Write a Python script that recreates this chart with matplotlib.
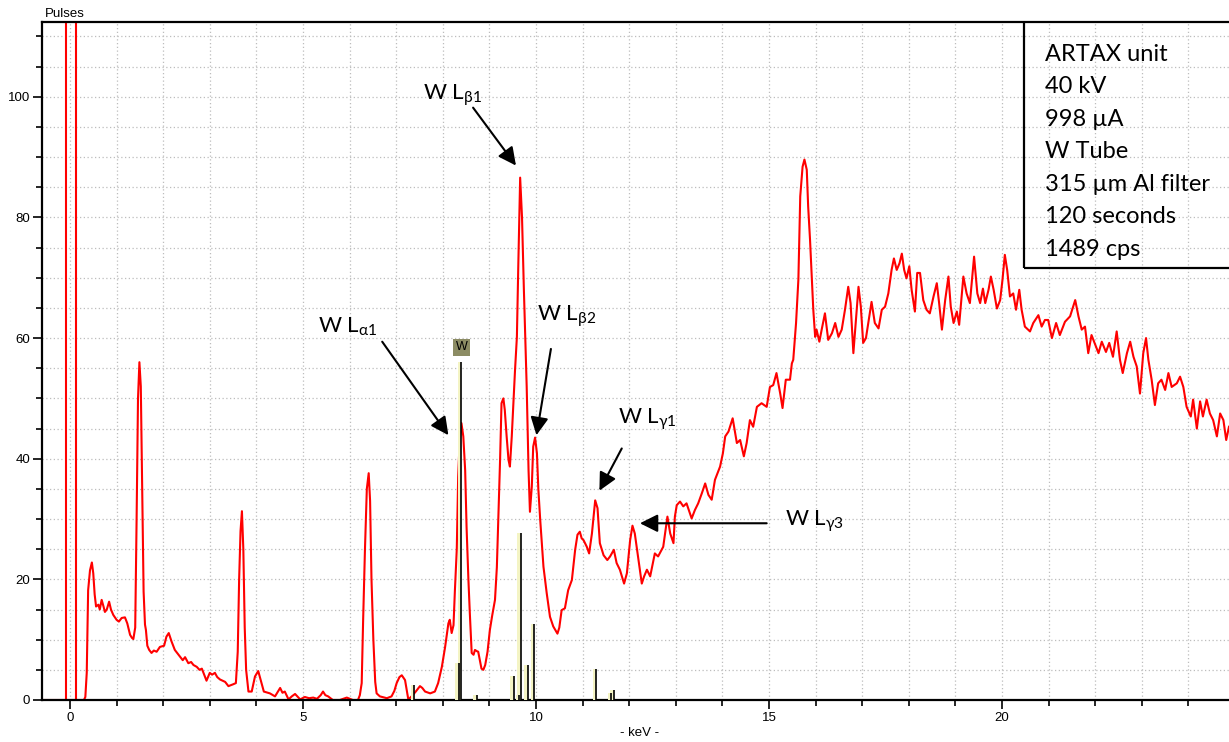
import matplotlib
matplotlib.use("Agg")
import matplotlib.pyplot as plt
from matplotlib.patches import Rectangle
from matplotlib.ticker import MultipleLocator

plt.rcParams['font.family'] = ['Liberation Sans', 'DejaVu Sans']
plt.rcParams['mathtext.fontset'] = 'custom'
plt.rcParams['mathtext.rm'] = 'Lato'

# spectrum (keV, pulses)
energy = [-0.6, 0.30, 0.33, 0.36, 0.39, 0.43, 0.47, 0.50, 0.53, 0.56, 0.61, 0.64, 0.68, 0.72,
          0.75, 0.79, 0.84, 0.88, 0.93, 1.00, 1.05, 1.11, 1.18, 1.23, 1.29, 1.33, 1.36, 1.40,
          1.43, 1.46, 1.49, 1.52, 1.55, 1.58, 1.61, 1.63, 1.66, 1.70, 1.75, 1.80, 1.86, 1.93,
          2.02, 2.07, 2.12, 2.18, 2.25, 2.30, 2.36, 2.42, 2.47, 2.54, 2.60, 2.65, 2.72, 2.78,
          2.83, 2.88, 2.93, 3.00, 3.05, 3.11, 3.16, 3.22, 3.33, 3.40, 3.50, 3.56, 3.60, 3.63,
          3.66, 3.69, 3.72, 3.75, 3.78, 3.83, 3.90, 3.97, 4.04, 4.11, 4.16, 4.29, 4.40, 4.51,
          4.56, 4.61, 4.69, 4.76, 4.83, 4.94, 5.04, 5.13, 5.22, 5.30, 5.38, 5.43, 5.48, 5.54,
          5.64, 5.79, 5.94, 6.07, 6.18, 6.22, 6.26, 6.29, 6.33, 6.37, 6.41, 6.44, 6.47, 6.51,
          6.55, 6.58, 6.65, 6.80, 6.90, 6.96, 7.01, 7.07, 7.12, 7.19, 7.23, 7.26, 7.33, 7.42,
          7.51, 7.56, 7.62, 7.73, 7.83, 7.90, 7.98, 8.05, 8.12, 8.15, 8.19, 8.23, 8.26, 8.30,
          8.33, 8.36, 8.40, 8.44, 8.48, 8.51, 8.55, 8.58, 8.62, 8.66, 8.69, 8.73, 8.76, 8.83,
          8.87, 8.91, 8.96, 9.01, 9.06, 9.12, 9.16, 9.19, 9.23, 9.26, 9.30, 9.33, 9.37, 9.41,
          9.44, 9.48, 9.52, 9.55, 9.59, 9.62, 9.66, 9.70, 9.74, 9.77, 9.80, 9.84, 9.87, 9.91,
          9.94, 9.98, 10.02, 10.05, 10.09, 10.16, 10.23, 10.30, 10.37, 10.46, 10.50, 10.55,
          10.62, 10.69, 10.77, 10.84, 10.89, 10.94, 10.98, 11.02, 11.09, 11.14, 11.20, 11.27,
          11.32, 11.37, 11.45, 11.53, 11.59, 11.67, 11.73, 11.80, 11.89, 11.95, 12.02, 12.07,
          12.12, 12.20, 12.27, 12.32, 12.38, 12.45, 12.55, 12.62, 12.73, 12.82, 12.88, 12.95,
          12.98, 13.02, 13.09, 13.16, 13.23, 13.34, 13.41, 13.48, 13.56, 13.63, 13.70, 13.77,
          13.84, 13.95, 14.01, 14.06, 14.13, 14.22, 14.31, 14.38, 14.46, 14.52, 14.59, 14.66,
          14.74, 14.84, 14.95, 15.02, 15.09, 15.16, 15.24, 15.29, 15.36, 15.45, 15.49, 15.52,
          15.58, 15.63, 15.67, 15.72, 15.76, 15.81, 15.84, 15.88, 15.92, 15.95, 15.99, 16.02,
          16.08, 16.13, 16.20, 16.27, 16.35, 16.42, 16.49, 16.56, 16.63, 16.70, 16.75, 16.81,
          16.87, 16.92, 16.97, 17.02, 17.08, 17.13, 17.20, 17.27, 17.35, 17.42, 17.49, 17.56,
          17.63, 17.68, 17.74, 17.80, 17.85, 17.90, 17.95, 18.01, 18.06, 18.13, 18.18, 18.24,
          18.31, 18.38, 18.45, 18.53, 18.60, 18.65, 18.71, 18.78, 18.85, 18.90, 18.96, 19.03,
          19.08, 19.17, 19.24, 19.31, 19.40, 19.47, 19.53, 19.59, 19.64, 19.71, 19.76, 19.82,
          19.89, 19.96, 20.01, 20.06, 20.11, 20.17, 20.24, 20.30, 20.37, 20.42, 20.49, 20.60,
          20.67, 20.78, 20.85, 20.92, 20.99, 21.07, 21.16, 21.24, 21.35, 21.46, 21.57, 21.64,
          21.71, 21.78, 21.85, 21.92, 22.00, 22.07, 22.14, 22.23, 22.30, 22.38, 22.46, 22.53,
          22.59, 22.68, 22.75, 22.82, 22.89, 22.96, 23.03, 23.09, 23.14, 23.21, 23.28, 23.35,
          23.42, 23.50, 23.57, 23.64, 23.75, 23.82, 23.89, 23.96, 24.05, 24.10, 24.18, 24.25,
          24.31, 24.39, 24.46, 24.53, 24.61, 24.68, 24.75, 24.81, 24.87]
pulses = [0.0, 0.0, 0.5, 4.5, 18.2, 21.5, 22.8, 21.0, 17.5, 15.5, 15.8, 15.0, 16.6, 15.5,
          14.6, 15.0, 16.3, 15.0, 14.1, 13.3, 13.0, 13.6, 13.7, 12.7, 10.8, 10.3, 10.1, 12.0,
          30.0, 50.0, 56.0, 52.0, 35.0, 18.0, 12.5, 11.6, 9.0, 8.3, 7.8, 8.2, 8.0, 8.8,
          9.0, 10.5, 11.1, 9.7, 8.3, 7.8, 7.2, 6.6, 7.1, 6.1, 6.3, 5.8, 5.5, 5.0,
          5.2, 4.2, 3.2, 4.5, 4.2, 4.5, 3.8, 3.4, 3.0, 2.3, 2.6, 2.8, 8.0, 20.0,
          28.0, 31.3, 25.0, 12.0, 5.0, 1.4, 1.4, 3.9, 4.8, 2.8, 1.4, 1.1, 0.6, 2.0,
          1.2, 1.4, 0.1, 0.6, 1.0, 0.1, 0.5, 0.3, 0.4, 0.2, 0.8, 1.4, 0.8, 0.6,
          0.0, 0.0, 0.4, 0.0, 0.0, 0.8, 2.8, 13.0, 25.0, 35.0, 37.6, 33.0, 20.0, 10.0,
          3.0, 1.1, 0.6, 0.3, 0.6, 1.5, 2.8, 3.8, 4.1, 3.3, 1.5, 0.1, 0.6, 1.4,
          2.3, 2.0, 1.4, 1.1, 1.4, 2.8, 5.5, 8.8, 12.7, 13.3, 11.1, 12.4, 18.2, 25.0,
          37.0, 42.6, 45.9, 43.7, 38.1, 28.7, 19.9, 14.4, 7.8, 7.5, 8.3, 8.1, 8.0, 5.2,
          5.0, 5.8, 8.0, 11.6, 14.0, 16.6, 22.0, 29.9, 40.0, 49.2, 50.0, 48.1, 43.7, 39.8,
          38.7, 43.7, 50.0, 54.7, 60.2, 72.0, 86.6, 80.0, 68.0, 60.0, 52.0, 38.1, 31.2, 35.4,
          42.0, 43.5, 40.9, 35.0, 29.9, 22.1, 17.7, 13.8, 12.2, 11.0, 12.0, 14.9,
          15.2, 18.2, 19.9, 24.9, 27.4, 27.9, 26.8, 26.5, 25.4, 24.3, 27.6, 33.1,
          31.8, 26.0, 24.0, 23.2, 23.8, 24.9, 22.7, 21.6, 19.3, 21.0, 26.5, 28.9,
          27.6, 23.2, 19.3, 20.5, 21.6, 20.5, 24.3, 23.8, 25.4, 30.4, 27.6, 26.0,
          30.4, 32.3, 32.9, 32.1, 32.6, 30.1, 31.5, 32.6, 34.3, 35.9, 34.0, 33.2,
          36.5, 38.7, 40.9, 43.7, 44.5, 46.7, 42.6, 43.1, 40.4, 42.6, 46.4, 45.3,
          48.6, 49.2, 48.6, 51.9, 52.2, 54.2, 50.8, 48.4, 53.1, 53.1, 55.8, 56.4,
          62.5, 69.7, 83.5, 88.4, 89.6, 87.9, 81.8, 76.3, 69.7, 64.7, 60.2, 61.4,
          59.4, 61.4, 64.1, 59.7, 60.8, 62.5, 60.2, 61.4, 64.7, 68.5, 65.8, 57.5,
          63.6, 68.5, 65.2, 59.2, 60.0, 62.5, 66.0, 62.5, 61.6, 64.7, 65.2, 67.4,
          71.3, 73.2, 71.3, 72.4, 74.0, 71.3, 69.9, 71.9, 68.0, 64.4, 70.8, 70.8,
          66.3, 64.7, 64.1, 66.9, 69.1, 65.8, 61.4, 66.3, 70.2, 65.2, 62.5, 64.4,
          62.2, 70.2, 67.4, 65.8, 73.5, 67.4, 65.8, 68.2, 65.8, 68.0, 70.2, 68.0,
          64.9, 66.3, 69.7, 73.8, 71.3, 66.9, 67.4, 64.7, 68.0, 64.7, 61.9, 61.1,
          62.5, 63.8, 61.9, 63.0, 63.0, 60.0, 62.5, 60.5, 62.7, 63.6, 66.3, 63.6,
          61.4, 61.9, 57.5, 60.5, 58.9, 57.5, 59.4, 57.7, 59.2, 56.9, 61.1, 56.4,
          54.2, 57.5, 59.4, 56.9, 55.3, 50.8, 57.5, 60.0, 56.4, 53.1, 48.9, 52.5,
          53.1, 51.4, 54.2, 51.9, 52.5, 53.6, 51.9, 48.6, 47.0, 49.8, 45.0, 49.5,
          47.0, 49.8, 47.5, 46.4, 43.7, 47.5, 46.4, 43.1, 45.3]

# W element lines (keV, relative height)
w_lines = [7.39, 8.34, 8.40, 8.73, 9.52, 9.64, 9.67, 9.82, 9.96, 11.29, 11.62, 11.67]
w_heights = [2.5, 6.2, 56.1, 0.9, 4.0, 0.9, 27.7, 5.8, 12.6, 5.2, 1.1, 1.6]

roi_lines = [-0.086, 0.13]

info = ["ARTAX unit", "40 kV", "998 µA", "W Tube", "315 µm Al filter",
        "120 seconds", "1489 cps"]

fig = plt.figure(figsize=(12.29, 7.42), dpi=100)
ax = fig.add_axes([42 / 1229, 1 - 700 / 742, 1187 / 1229, 678 / 742])

ax.set_xlim(-0.6, 24.87)
ax.set_ylim(0, 112.4)

ax.xaxis.set_major_locator(MultipleLocator(5))
ax.xaxis.set_minor_locator(MultipleLocator(1))
ax.yaxis.set_major_locator(MultipleLocator(20))
ax.yaxis.set_minor_locator(MultipleLocator(5))
ax.grid(which='both', ls=(0, (1, 2)), color='#bdbdbd', lw=0.9, zorder=0)
ax.set_axisbelow(True)

ax.tick_params(which='major', length=6.5, width=1.2, labelsize=9.5, pad=2)
ax.tick_params(which='minor', length=4, width=1.2)
ax.spines['right'].set_visible(False)
for s in ['left', 'bottom', 'top']:
    ax.spines[s].set_linewidth(1.6)

for x in roi_lines:
    ax.axvline(x, color='red', lw=1.5, zorder=2)

ax.plot(energy, pulses, color='red', lw=1.5, zorder=2)

ax.bar(w_lines, w_heights, width=-0.075, align='edge', color='#f4f4c4', zorder=3)
ax.vlines(w_lines, 0, w_heights, color='black', lw=1.2, zorder=4)
ax.text(8.40, 58.5, 'W', ha='center', va='center', fontsize=9, zorder=5,
        bbox=dict(boxstyle='square,pad=0.2', fc='#8c8c64', ec='none'))

# annotations
arrow = dict(arrowstyle='-|>', color='black', lw=1.5, mutation_scale=27, shrinkA=0, shrinkB=0)
labels = [(r'W L$_{\mathregular{β1}}$', 7.58, 99.5, (8.65, 98.2), (9.57, 88.6)),
          (r'W L$_{\mathregular{α1}}$', 5.32, 60.9, (6.70, 59.4), (8.12, 43.9)),
          (r'W L$_{\mathregular{β2}}$', 10.02, 62.9, (10.32, 58.2), (10.01, 43.9)),
          (r'W L$_{\mathregular{γ1}}$', 11.77, 45.9, (11.84, 41.7), (11.36, 34.7)),
          (r'W L$_{\mathregular{γ3}}$', 15.34, 28.9, (14.95, 29.3), (12.23, 29.3))]
for txt, tx, ty, tail, head in labels:
    ax.text(tx, ty, txt, family='Lato', fontsize=16, va='baseline', ha='left')
    ax.annotate('', xy=head, xytext=tail, arrowprops=arrow)

ax.add_patch(Rectangle((20.47, 71.6), 10, 50, fc='none', ec='black', lw=1.6, zorder=5))
for i, line in enumerate(info):
    ax.text(20.92, 106.0 - i * 5.4, line, family='Lato', fontsize=17, va='baseline')

fig.text(45 / 1229, 1 - 14 / 742, 'Pulses', fontsize=9.5, va='center', ha='left')
fig.text(640 / 1229, 1 - 733 / 742, '- keV -', fontsize=9.5, va='center', ha='center')

fig.savefig('out.png', dpi=100)
